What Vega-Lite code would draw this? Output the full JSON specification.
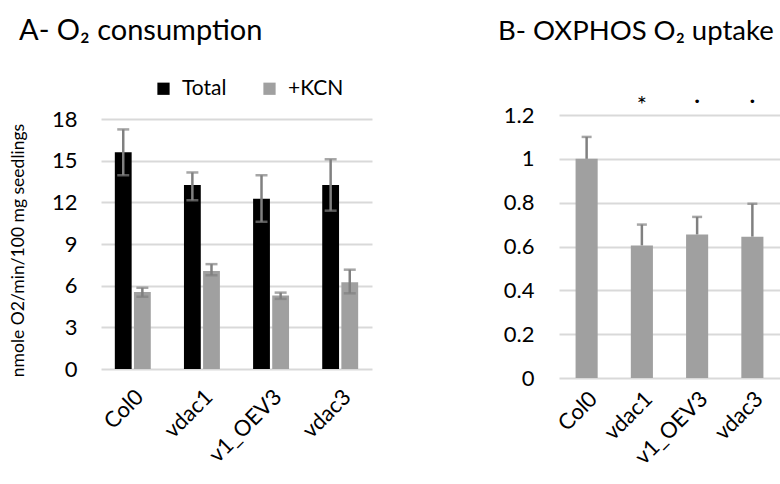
{
  "$schema": "https://vega.github.io/schema/vega-lite/v6.json",
  "padding": {"left": 9, "top": 17, "right": 0, "bottom": 0},
  "background": "white",
  "config": {
    "font": "Lato",
    "view": {"stroke": null},
    "concat": {"spacing": 126},
    "axis": {
      "labelColor": "#000000",
      "labelFontSize": 22,
      "labelFont": "Lato",
      "titleFont": "Lato",
      "titleColor": "#000000",
      "titleFontWeight": "normal",
      "gridColor": "#d9d9d9",
      "gridWidth": 2,
      "ticks": false,
      "domain": false
    },
    "legend": {"labelFont": "Lato", "labelColor": "#000000"},
    "title": {"font": "Lato", "fontWeight": "normal", "color": "#000000", "fontSize": 29, "anchor": "start", "frame": "group"}
  },
  "datasets": {
    "a": [
      {"line": "Col0", "series": "Total", "value": 15.6, "lo": 13.95, "hi": 17.25},
      {"line": "Col0", "series": "+KCN", "value": 5.55, "lo": 5.2, "hi": 5.85},
      {"line": "vdac1", "series": "Total", "value": 13.25, "lo": 12.15, "hi": 14.15},
      {"line": "vdac1", "series": "+KCN", "value": 7.05, "lo": 6.75, "hi": 7.55},
      {"line": "v1_OEV3", "series": "Total", "value": 12.25, "lo": 10.6, "hi": 13.95},
      {"line": "v1_OEV3", "series": "+KCN", "value": 5.3, "lo": 5.05, "hi": 5.5},
      {"line": "vdac3", "series": "Total", "value": 13.25, "lo": 11.4, "hi": 15.1},
      {"line": "vdac3", "series": "+KCN", "value": 6.25, "lo": 5.45, "hi": 7.15}
    ],
    "b": [
      {"line": "Col0", "value": 1.0, "hi": 1.1, "sig": ""},
      {"line": "vdac1", "value": 0.605, "hi": 0.7, "sig": "*"},
      {"line": "v1_OEV3", "value": 0.655, "hi": 0.735, "sig": "·"},
      {"line": "vdac3", "value": 0.645, "hi": 0.795, "sig": "·"}
    ]
  },
  "hconcat": [
    {
      "width": 271,
      "height": 263,
      "title": {"text": "A- O₂ consumption", "dx": -82, "offset": 62},
      "data": {"name": "a"},
      "encoding": {
        "x": {
          "field": "line", "type": "nominal",
          "sort": ["Col0", "vdac1", "v1_OEV3", "vdac3"],
          "scale": {"paddingInner": 0.48},
          "axis": {"title": null, "labelAngle": -45, "labelPadding": 8}
        },
        "xOffset": {"field": "series", "type": "nominal", "sort": ["Total", "+KCN"], "scale": {"paddingInner": 0.12}}
      },
      "layer": [
        {
          "mark": {"type": "bar"},
          "encoding": {
            "y": {
              "field": "value", "type": "quantitative",
              "scale": {"domain": [0, 18], "range": [254, 4]},
              "axis": {"values": [0, 3, 6, 9, 12, 15, 18], "title": "nmole O2/min/100 mg seedlings", "titleFontSize": 17.5, "labelPadding": 24, "titlePadding": 24, "titleY": 135}
            },
            "color": {
              "field": "series", "type": "nominal",
              "scale": {"domain": ["Total", "+KCN"], "range": ["#000000", "#a0a0a0"]},
              "legend": {"orient": "none", "legendX": 52, "legendY": -37, "direction": "horizontal", "title": null, "symbolType": "square", "symbolSize": 150, "labelFontSize": 21, "columnPadding": 32, "symbolStrokeWidth": 0, "labelOffset": 8}
            }
          }
        },
        {
          "mark": {"type": "rule", "color": "#808080", "strokeWidth": 2.5},
          "encoding": {"y": {"field": "lo", "type": "quantitative"}, "y2": {"field": "hi"}}
        },
        {
          "mark": {"type": "tick", "color": "#808080", "thickness": 2.5, "size": 12},
          "encoding": {"y": {"field": "lo", "type": "quantitative"}}
        },
        {
          "mark": {"type": "tick", "color": "#808080", "thickness": 2.5, "size": 12},
          "encoding": {"y": {"field": "hi", "type": "quantitative"}}
        }
      ]
    },
    {
      "width": 221,
      "height": 263,
      "title": {"text": "B- OXPHOS O₂ uptake", "dx": -61, "offset": 43, "fontSize": 27.5},
      "data": {"name": "b"},
      "encoding": {
        "x": {
          "field": "line", "type": "nominal",
          "sort": ["Col0", "vdac1", "v1_OEV3", "vdac3"],
          "scale": {"paddingInner": 0.6},
          "axis": {"title": null, "labelAngle": -45, "labelPadding": 10}
        }
      },
      "layer": [
        {
          "mark": {"type": "bar", "color": "#a0a0a0"},
          "encoding": {
            "y": {
              "field": "value", "type": "quantitative",
              "scale": {"domain": [0, 1.2]},
              "axis": {"values": [0, 0.2, 0.4, 0.6, 0.8, 1, 1.2], "format": "~g", "title": null, "labelPadding": 25}
            }
          }
        },
        {
          "mark": {"type": "rule", "color": "#808080", "strokeWidth": 2.5},
          "encoding": {"y": {"field": "value", "type": "quantitative"}, "y2": {"field": "hi"}}
        },
        {
          "mark": {"type": "tick", "color": "#808080", "thickness": 2.5, "size": 10},
          "encoding": {"y": {"field": "hi", "type": "quantitative"}}
        },
        {
          "transform": [{"filter": "datum.sig == '*'"}],
          "mark": {"type": "text", "fontSize": 24, "baseline": "middle", "clip": false, "dy": 5},
          "encoding": {"y": {"datum": 1.265}, "text": {"field": "sig"}}
        },
        {
          "transform": [{"filter": "datum.sig == '·'"}],
          "mark": {"type": "text", "fontSize": 24, "baseline": "middle", "clip": false},
          "encoding": {"y": {"datum": 1.265}, "text": {"field": "sig"}}
        }
      ]
    }
  ]
}
